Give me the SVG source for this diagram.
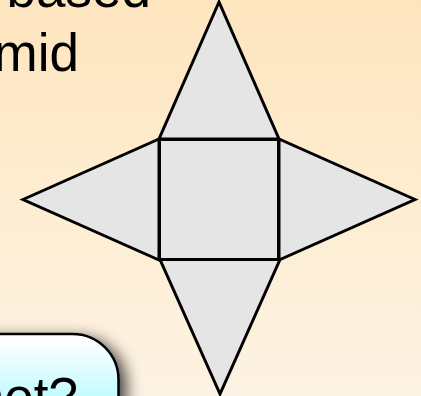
<svg xmlns="http://www.w3.org/2000/svg" width="421" height="396" viewBox="0 0 421 396">
<defs>
<linearGradient id="bg" x1="0" y1="0" x2="0" y2="1"><stop offset="0" stop-color="#fde5bf"/><stop offset="0.3" stop-color="#fdeac9"/><stop offset="1" stop-color="#fdf3e4"/></linearGradient>
<linearGradient id="box" gradientUnits="userSpaceOnUse" x1="0" y1="338" x2="0" y2="396"><stop offset="0" stop-color="#ffffff"/><stop offset="1" stop-color="#c4fbff"/></linearGradient>
<filter id="sh" x="-30%" y="-50%" width="160%" height="200%"><feGaussianBlur stdDeviation="8"/></filter>
<style>.t{font-family:"Liberation Sans",Arial,sans-serif;font-size:53px;fill:#000;text-anchor:end}.f{fill:#e5e5e5;stroke:#000;stroke-width:3;stroke-linejoin:miter}</style>
</defs>
<rect width="421" height="396" fill="url(#bg)"/>
<text class="t" x="151" y="7">based</text>
<text class="t" x="79" y="70.500">mid</text>
<g id="callout">
<rect x="-60" y="338" width="186" height="110" rx="46" fill="#000" opacity="0.75" filter="url(#sh)"/>
<rect x="-60" y="334" width="178.500" height="110" rx="46" fill="url(#box)" stroke="#000" stroke-width="2.500"/>
<text class="t" x="78" y="415">net?</text>
</g>
<g id="net">
<polygon id="top" class="f" points="219,2 159,139 279,139"/>
<polygon id="left" class="f" points="23,199.500 159,139 159,260"/>
<polygon id="right" class="f" points="415,199.500 279,139 279,260"/>
<polygon id="bottom" class="f" points="220,394 160,259.500 280,259.500"/>
<rect id="base" class="f" x="159.500" y="139.500" width="119" height="120"/>
</g>
</svg>
